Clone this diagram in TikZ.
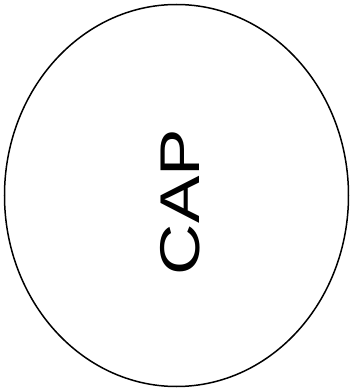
\documentclass[tikz,border=0pt]{standalone}
\usepackage{fontspec}
\setmainfont{Liberation Sans}
\usepackage{graphicx}
\usepackage{tikz}
\usetikzlibrary{shapes.geometric}

\begin{document}
\begin{tikzpicture}[
    x=1pt, y=1pt,
    capshape/.style={draw, ellipse, line width=1.5pt, inner sep=0pt,
                     minimum width=344pt, minimum height=382pt},
    caplabel/.style={font=\fontsize{56}{60}\selectfont, inner sep=0pt,
                     rotate=90},
]
\useasboundingbox (0,0) rectangle (350,389);

% --- Outline ---
\node[capshape] (cap) at (176.5,193.5) {};

% --- Label ---
\node[caplabel] (caplbl) at (180.5,187) {\scalebox{1.27}[1]{CAP}};

\end{tikzpicture}
\end{document}
